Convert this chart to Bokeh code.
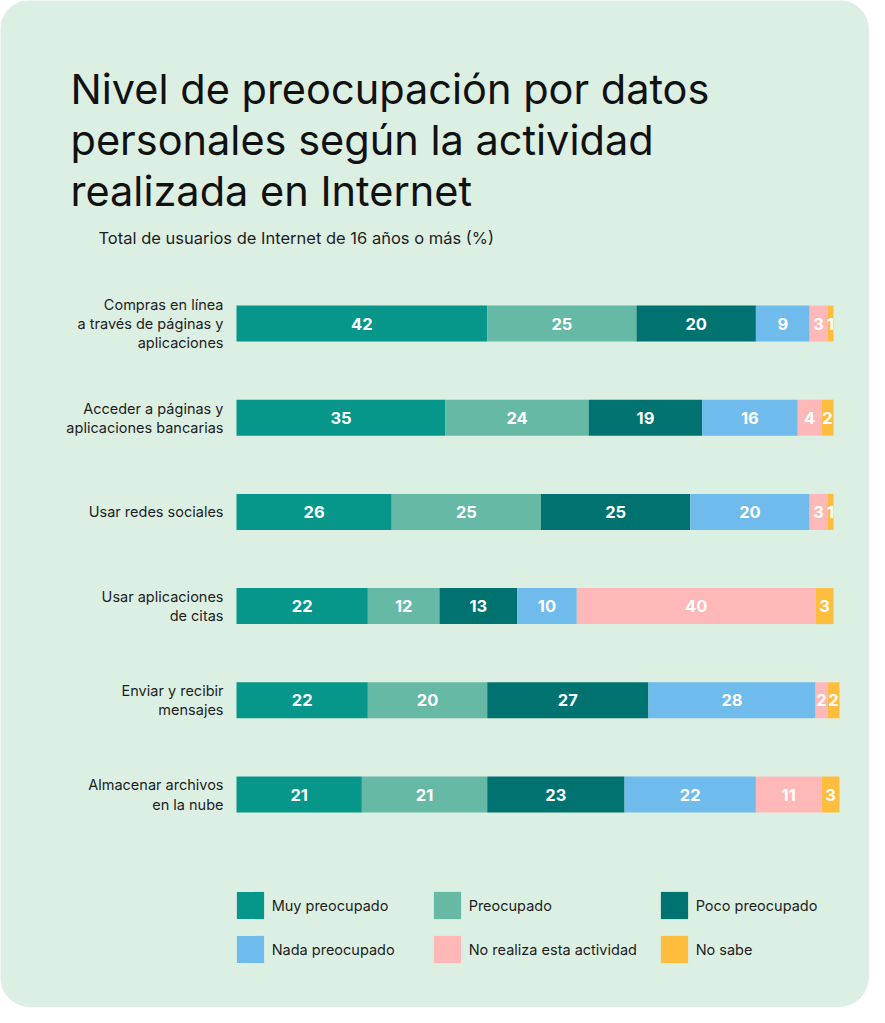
from bokeh.plotting import figure
from bokeh.models import ColumnDataSource, Range1d, Legend, LegendItem, Label
from bokeh.core.properties import value
from bokeh.embed import file_html
from bokeh.resources import INLINE

# ---------------- data ----------------
categories = [
    "Compras en línea\na través de páginas y\naplicaciones",
    "Acceder a páginas y\naplicaciones bancarias",
    "Usar redes sociales",
    "Usar aplicaciones\nde citas",
    "Enviar y recibir\nmensajes",
    "Almacenar archivos\nen la nube",
]
series = ["Muy preocupado", "Preocupado", "Poco preocupado",
          "Nada preocupado", "No realiza esta actividad", "No sabe"]
muy_preocupado = [42, 35, 26, 22, 22, 21]
preocupado = [25, 24, 25, 12, 20, 21]
poco_preocupado = [20, 19, 25, 13, 27, 23]
nada_preocupado = [9, 16, 20, 10, 28, 22]
no_realiza = [3, 4, 3, 40, 2, 11]
no_sabe = [1, 2, 1, 3, 2, 3]
values = [muy_preocupado, preocupado, poco_preocupado, nada_preocupado, no_realiza, no_sabe]

title_text = "Nivel de preocupación por datos\npersonales según la actividad\nrealizada en Internet"
subtitle_text = "Total de usuarios de Internet de 16 años o más (%)"

# ---------------- style ----------------
colors = ["#06968a", "#66b9a5", "#00726f", "#6fbbec", "#ffb8b8", "#ffbd3e"]
BG = "#dcefe3"
TXT = "#1e1e1e"
FONT = "Inter"

W, H = 869, 1007
bar_left, bar_right = 236, 833
row0_y, pitch = 323, 94.2
bar_h = 36

scale = (bar_right - bar_left) / 100.0
x_start = -bar_left / scale
x_end = (W - bar_left) / scale
y_top = -row0_y / pitch
y_bottom = (H - row0_y) / pitch

p = figure(width=W, height=H, title=None,
           x_range=Range1d(x_start, x_end), y_range=Range1d(y_bottom, y_top),
           x_axis_location=None, y_axis_location=None,
           output_backend="svg", toolbar_location=None, min_border=0,
           background_fill_color=BG, border_fill_color=BG,
           outline_line_color=None)
p.grid.visible = False
p.styles = {"border-radius": "30px", "overflow": "hidden"}

idx = list(range(len(categories)))
keys = [f"s{i}" for i in range(len(series))]
data = {"idx": idx}
for k, v in zip(keys, values):
    data[k] = v
source = ColumnDataSource(data)

renderers = p.hbar_stack(keys, y="idx", height=bar_h / pitch, source=source,
                         fill_color=colors, line_color=None)

# value labels
lx, ly, lt = [], [], []
for r in idx:
    left = 0
    for v in values:
        val = v[r]
        lx.append(left + val / 2.0)
        ly.append(r)
        lt.append(str(val))
        left += val
p.text(x=lx, y=ly, text=lt, text_align="center", text_baseline="middle",
       text_color="white", text_font=value(FONT), text_font_size="16.5px",
       text_font_style="bold")

# category labels
p.text(x=[0] * len(idx), y=idx, text=categories, x_offset=-13,
       text_align="right", text_baseline="middle", text_color=TXT,
       text_font=value(FONT), text_font_size="14.5px", text_line_height=1.14)

# title & subtitle
p.add_layout(Label(x=70, y=H - 63, x_units="screen", y_units="screen",
                   text=title_text, text_font=FONT, text_font_size="41.5px",
                   text_color="#111111", text_baseline="top", text_align="left",
                   text_line_height=1.02))
p.add_layout(Label(x=98, y=H - 237, x_units="screen", y_units="screen",
                   text=subtitle_text, text_font=FONT, text_font_size="16.5px",
                   text_color=TXT, text_baseline="middle", text_align="left"))

# legend: three columns
col_x = [236, 433, 660]
leg_top = 892
sw = 27
gw = sw / 0.8
gap = 10
for c in range(3):
    items = [LegendItem(label=series[c], renderers=[renderers[c]]),
             LegendItem(label=series[c + 3], renderers=[renderers[c + 3]])]
    leg_h = 2 * gw + gap
    leg = Legend(items=items,
                 location=(col_x[c] - (gw - sw) / 2,
                           H - (leg_top - (gw - sw) / 2) - leg_h),
                 orientation="vertical", glyph_width=int(round(gw)),
                 glyph_height=int(round(gw)), label_standoff=5, spacing=gap,
                 padding=0, margin=0, border_line_color=None,
                 background_fill_alpha=0, label_text_font=FONT,
                 label_text_font_size="14.5px", label_text_color=TXT)
    p.add_layout(leg, "center")

open("out.html", "w").write(file_html(p, INLINE))
